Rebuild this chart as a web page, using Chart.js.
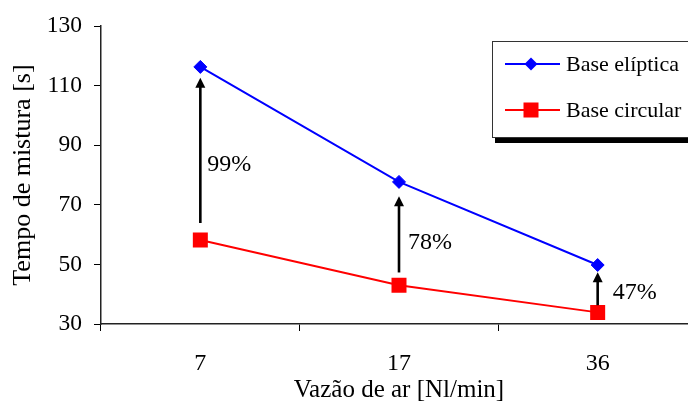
<!DOCTYPE html>
<html>
<head>
<meta charset="utf-8">
<script src="https://cdn.jsdelivr.net/npm/chart.js@4/dist/chart.umd.min.js"></script>
<style>
  html, body { margin: 0; padding: 0; background: #fff; overflow: hidden; width: 688px; height: 401px; }
  #wrap { position: relative; width: 700px; height: 401px; }
  #c { display: block; width: 700px; height: 401px; }
</style>
</head>
<body>
<div id="wrap"><canvas id="c" width="700" height="401"></canvas></div>
<script>
const categories = ['7', '17', '36'];
const seriesEliptica = [116.3, 77.7, 49.8];
const seriesCircular = [58.2, 43.0, 33.9];
const yTicks = [30, 50, 70, 90, 110, 130];
const arrowFrom = [63.9, 47.3, 36.3];
const arrowTo = [112.7, 72.9, 47.4];
const pctLabels = ['99%', '78%', '47%'];
const pctLabelY = [83.5, 57.2, 40.6];

const FONT = '"Liberation Serif", "Times New Roman", serif';
const LABEL_DX = [7, 9, 15];

const annotationPlugin = {
  id: 'arrowsAndLegend',
  afterDatasetsDraw(chart) {
    const ctx = chart.ctx;
    const xs = chart.scales.x, ys = chart.scales.y;
    ctx.save();
    // arrows
    ctx.strokeStyle = '#000';
    ctx.fillStyle = '#000';
    ctx.lineWidth = 2.6;
    for (let i = 0; i < categories.length; i++) {
      const x = xs.getPixelForValue(i);
      const y0 = ys.getPixelForValue(arrowFrom[i]);
      const y1 = ys.getPixelForValue(arrowTo[i]);
      const head = 10;
      ctx.beginPath();
      ctx.moveTo(x, y0);
      ctx.lineTo(x, y1 + head - 1);
      ctx.stroke();
      ctx.beginPath();
      ctx.moveTo(x, y1);
      ctx.lineTo(x - 5, y1 + head);
      ctx.lineTo(x + 5, y1 + head);
      ctx.closePath();
      ctx.fill();
      ctx.font = '24px ' + FONT;
      ctx.textBaseline = 'middle';
      ctx.textAlign = 'left';
      ctx.fillText(pctLabels[i], x + LABEL_DX[i], ys.getPixelForValue(pctLabelY[i]));
    }
    // legend box
    const bx = 492, by = 41, bw = 210, bh = 96;
    ctx.fillStyle = '#000';
    ctx.fillRect(bx + 3, by + bh, bw, 6);
    ctx.fillRect(bx + bw, by + 3, 6, bh);
    ctx.fillStyle = '#fff';
    ctx.fillRect(bx, by, bw, bh);
    ctx.strokeStyle = '#333';
    ctx.lineWidth = 1;
    ctx.strokeRect(bx + 0.5, by + 0.5, bw, bh);
    const rows = [64, 110];
    chart.data.datasets.forEach((ds, i) => {
      const y = rows[i];
      ctx.strokeStyle = ds.borderColor;
      ctx.lineWidth = 2;
      ctx.beginPath();
      ctx.moveTo(505, y);
      ctx.lineTo(560, y);
      ctx.stroke();
      ctx.fillStyle = ds.backgroundColor;
      if (ds.pointStyle === 'rectRot') {
        ctx.beginPath();
        ctx.moveTo(531 - 6.5, y);
        ctx.lineTo(531, y - 6.5);
        ctx.lineTo(531 + 6.5, y);
        ctx.lineTo(531, y + 6.5);
        ctx.closePath();
        ctx.fill();
      } else {
        ctx.fillRect(531 - 7.5, y - 7.5, 15, 15);
      }
      ctx.fillStyle = '#000';
      ctx.font = '22px ' + FONT;
      ctx.textBaseline = 'middle';
      ctx.textAlign = 'left';
      ctx.fillText(ds.label, 566, y + 1);
    });
    ctx.restore();
  }
};

new Chart(document.getElementById('c'), {
  type: 'line',
  data: {
    labels: categories,
    datasets: [
      {
        label: 'Base elíptica',
        data: seriesEliptica,
        borderColor: '#0000FF',
        backgroundColor: '#0000FF',
        borderWidth: 2,
        pointStyle: 'rectRot',
        pointRadius: 6.5,
        pointBorderWidth: 1,
        tension: 0
      },
      {
        label: 'Base circular',
        data: seriesCircular,
        borderColor: '#FF0000',
        backgroundColor: '#FF0000',
        borderWidth: 2,
        pointStyle: 'rect',
        pointRadius: 10.6,
        pointBorderWidth: 0,
        tension: 0
      }
    ]
  },
  options: {
    responsive: false,
    animation: false,
    devicePixelRatio: 1,
    layout: { autoPadding: false, padding: { left: 0, right: 3, top: 23, bottom: 0 } },
    plugins: {
      legend: { display: false },
      tooltip: { enabled: false }
    },
    scales: {
      x: {
        type: 'category',
        offset: true,
        grid: { drawOnChartArea: false, drawTicks: true, tickLength: 7, color: '#000', offset: true },
        border: { color: '#222', width: 1.5 },
        ticks: { color: '#000', font: { family: FONT, size: 24 }, padding: 18, maxRotation: 0 },
        title: { display: true, text: 'Vazão de ar [Nl/min]', color: '#000', font: { family: FONT, size: 25 }, padding: { top: 0, bottom: -4 } },
        afterFit(scale) { scale.height = 77; }
      },
      y: {
        min: 30,
        max: 130,
        afterBuildTicks(scale) { scale.ticks = yTicks.map(v => ({ value: v })); },
        grid: { drawOnChartArea: false, drawTicks: true, tickLength: 7, color: '#000' },
        border: { color: '#222', width: 1.5 },
        ticks: { color: '#000', font: { family: FONT, size: 23.5 }, padding: 12 },
        title: { display: true, text: 'Tempo de mistura [s]', color: '#000', font: { family: FONT, size: 26 }, padding: { top: 8, bottom: 0 } },
        afterFit(scale) { scale.width = 101; }
      }
    }
  },
  plugins: [annotationPlugin]
});
</script>
</body>
</html>
